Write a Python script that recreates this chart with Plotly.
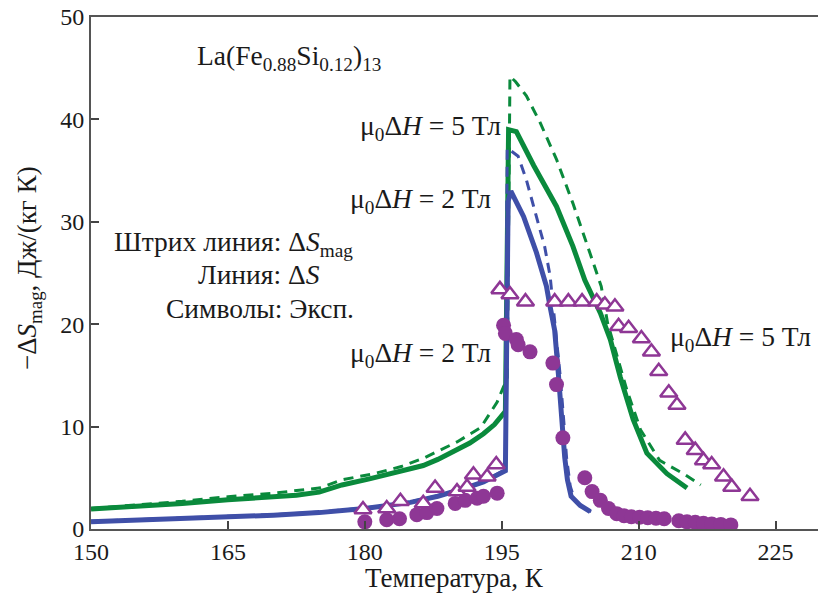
import plotly.graph_objects as go

# ---- data ----
# ΔS, μ0ΔH = 2 T (solid blue)
t_ds2 = [150, 155, 160, 165, 170, 175, 180, 185, 188, 191, 193, 195.4, 195.7, 196.0, 197.4, 198.8, 199.9, 200.3, 200.8, 201.2, 201.6, 201.9, 202.2, 202.6, 203.6, 204.7]
s_ds2 = [0.7, 0.85, 1.0, 1.2, 1.35, 1.6, 2.0, 2.6, 3.2, 4.0, 4.6, 5.7, 32.0, 33.0, 30.5, 27.0, 23.7, 21.7, 19.4, 15.2, 10.0, 7.0, 4.8, 3.2, 2.3, 1.7]
# ΔS_mag, μ0ΔH = 2 T (dashed blue)
t_dm2 = [150, 155, 160, 165, 170, 175, 180, 185, 188, 191, 193, 195.4, 195.6, 196.8, 197.7, 198.8, 199.7, 200.3, 200.6, 201.0, 201.4, 201.8, 202.1, 202.5, 203.0, 204.0, 204.8]
s_dm2 = [0.75, 0.9, 1.05, 1.25, 1.4, 1.65, 2.05, 2.65, 3.25, 4.05, 4.65, 5.8, 37.2, 36.4, 34.1, 30.5, 27.6, 24.7, 22.0, 19.0, 15.0, 10.5, 7.0, 4.2, 2.8, 2.0, 1.7]
# ΔS, μ0ΔH = 5 T (solid green)
t_ds5 = [150, 155, 160, 165, 170, 172.5, 175, 177.5, 180.5, 183, 186.4, 188, 190.1, 191.5, 193.0, 194.2, 195.4, 195.75, 196.6, 198.5, 201.0, 202.8, 204.1, 205.8, 206.9, 208.0, 209.4, 210.9, 213.1, 215.3]
s_ds5 = [1.95, 2.2, 2.5, 2.85, 3.15, 3.3, 3.6, 4.3, 4.9, 5.4, 6.2, 6.8, 7.7, 8.4, 9.3, 10.2, 11.5, 39.0, 38.8, 35.5, 31.5, 27.6, 24.3, 21.1, 18.5, 14.8, 10.7, 7.4, 5.4, 4.0]
# ΔS_mag, μ0ΔH = 5 T (dashed green)
t_dm5 = [150, 155, 160, 165, 170, 175, 177.5, 181, 184, 186.4, 188, 190.1, 192.7, 194.5, 195.2, 195.6, 195.9, 196.5, 197.7, 199.2, 201.0, 202.8, 204.3, 205.9, 206.6, 208.7, 210.2, 212.3, 214.9, 216.8]
s_dm5 = [2.0, 2.35, 2.7, 3.15, 3.5, 4.0, 4.8, 5.4, 6.1, 6.9, 7.6, 8.5, 9.9, 12.4, 13.9, 14.5, 44.2, 43.7, 42.3, 39.7, 36.1, 31.8, 27.9, 23.7, 20.1, 13.6, 9.7, 6.7, 5.4, 4.3]
# experiment, μ0ΔH = 2 T (filled circles)
t_e2 = [180.0, 182.4, 183.8, 185.7, 186.8, 187.9, 189.9, 191.0, 192.3, 193.0, 194.5,
        195.2, 195.4, 196.6, 196.8, 198.1, 200.6, 201.0, 201.7, 204.1, 204.9, 205.8, 206.7, 207.6,
        208.4, 209.2, 210.1, 211.0, 211.9, 212.8, 214.4, 215.3, 216.2, 217.1, 218.0, 219.0, 220.1]
s_e2 = [0.7, 0.9, 1.0, 1.4, 1.6, 2.0, 2.5, 2.8, 3.0, 3.2, 3.5,
        19.9, 19.1, 18.5, 18.0, 17.3, 16.2, 14.1, 8.9, 5.0, 3.65, 2.8, 2.0, 1.5,
        1.3, 1.2, 1.15, 1.1, 1.05, 1.0, 0.8, 0.7, 0.65, 0.55, 0.5, 0.45, 0.4]
# experiment, μ0ΔH = 5 T (open triangles)
t_e5 = [179.8, 182.4, 183.9, 186.4, 187.7, 190.1, 191.2, 191.9, 193.4, 194.4,
        194.8, 195.9, 197.6, 200.8, 202.3, 203.8, 205.4, 206.3, 207.4, 207.8, 208.9, 210.3, 211.4,
        212.2, 213.3, 214.2, 215.1, 216.2, 217.1, 218.0, 219.3, 220.2, 222.2]
s_e5 = [1.9, 2.0, 2.7, 2.5, 4.0, 3.65, 4.1, 5.3, 5.1, 6.3,
        23.4, 22.9, 22.2, 22.2, 22.2, 22.2, 22.2, 21.9, 21.7, 19.8, 19.6, 18.6, 17.3,
        15.4, 13.3, 12.1, 8.7, 7.7, 6.7, 6.3, 5.1, 4.1, 3.2]

x_ticks = [150, 165, 180, 195, 210, 225]
y_ticks = [0, 10, 20, 30, 40, 50]

BLUE = "#3f4fa8"
GREEN = "#0a8a3c"
PURPLE = "#8e3795"
FONT = "Liberation Serif"
TXT = "#1a1a1a"

fig = go.Figure()
fig.add_trace(go.Scatter(x=t_dm5, y=s_dm5, mode="lines", line=dict(color=GREEN, width=3, dash="10px,7px")))
fig.add_trace(go.Scatter(x=t_ds5, y=s_ds5, mode="lines", line=dict(color=GREEN, width=5)))
fig.add_trace(go.Scatter(x=t_dm2, y=s_dm2, mode="lines", line=dict(color=BLUE, width=3, dash="10px,7px")))
fig.add_trace(go.Scatter(x=t_ds2, y=s_ds2, mode="lines", line=dict(color=BLUE, width=5)))
fig.add_trace(go.Scatter(x=t_e2, y=s_e2, mode="markers",
                         marker=dict(symbol="circle", size=15, color=PURPLE, line=dict(width=0))))
fig.add_trace(go.Scatter(x=t_e5, y=s_e5, mode="markers",
                         marker=dict(symbol="triangle-up", size=15, color="white",
                                     line=dict(color=PURPLE, width=2.5))))

ann_font = dict(family=FONT, size=27.5, color=TXT)
anns = [
    dict(x=161.4, y=46.0, text="La(Fe<sub>0.88</sub>Si<sub>0.12</sub>)<sub>13</sub>", xanchor="left"),
    dict(x=195.1, y=39.2, text="μ<sub>0</sub>Δ<i>H</i> = 5 Тл", xanchor="right"),
    dict(x=194.0, y=32.1, text="μ<sub>0</sub>Δ<i>H</i> = 2 Тл", xanchor="right"),
    dict(x=178.9, y=27.9, text="Штрих линия: Δ<i>S</i><sub>mag</sub>", xanchor="right"),
    dict(x=161.5, y=24.9, text="Линия: Δ<i>S</i>", xanchor="left"),
    dict(x=179.0, y=21.5, text="Символы: Эксп.", xanchor="right"),
    dict(x=194.0, y=17.0, text="μ<sub>0</sub>Δ<i>H</i> = 2 Тл", xanchor="right"),
    dict(x=213.2, y=18.65, text="μ<sub>0</sub>Δ<i>H</i> = 5 Тл", xanchor="left"),
]
for a in anns:
    a.update(xref="x", yref="y", showarrow=False, yanchor="middle", font=ann_font)

anns.append(dict(xref="paper", yref="paper", x=(29 - 91) / 727, y=(529 - 268) / 512, textangle=-90,
                 text="−Δ<i>S</i><sub>mag</sub>, Дж/(кг К)", showarrow=False,
                 xanchor="center", yanchor="middle", font=dict(family=FONT, size=27, color=TXT)))
anns.append(dict(xref="paper", yref="paper", x=0.5, y=(529 - 578) / 512,
                 text="Температура, К", showarrow=False,
                 xanchor="center", yanchor="middle", font=dict(family=FONT, size=27, color=TXT)))

fig.update_layout(
    width=818, height=598,
    margin=dict(l=91, r=0, t=17, b=69),
    paper_bgcolor="white", plot_bgcolor="white",
    showlegend=False,
    annotations=anns,
    font=dict(family=FONT, size=24, color=TXT),
)
fig.update_xaxes(range=[150, 229.65], tickvals=x_ticks, ticks="inside", ticklen=8, tickwidth=1.5,
                 tickcolor="#444", showline=True, linecolor="#555", linewidth=2, mirror=True,
                 showgrid=False, zeroline=False, tickfont=dict(family=FONT, size=24, color=TXT))
fig.update_yaxes(range=[0, 50], tickvals=y_ticks, ticks="inside", ticklen=8, tickwidth=1.5,
                 tickcolor="#444", showline=True, linecolor="#555", linewidth=2, mirror=False,
                 showgrid=False, zeroline=False, tickfont=dict(family=FONT, size=24, color=TXT))

fig.write_html("out.html")
